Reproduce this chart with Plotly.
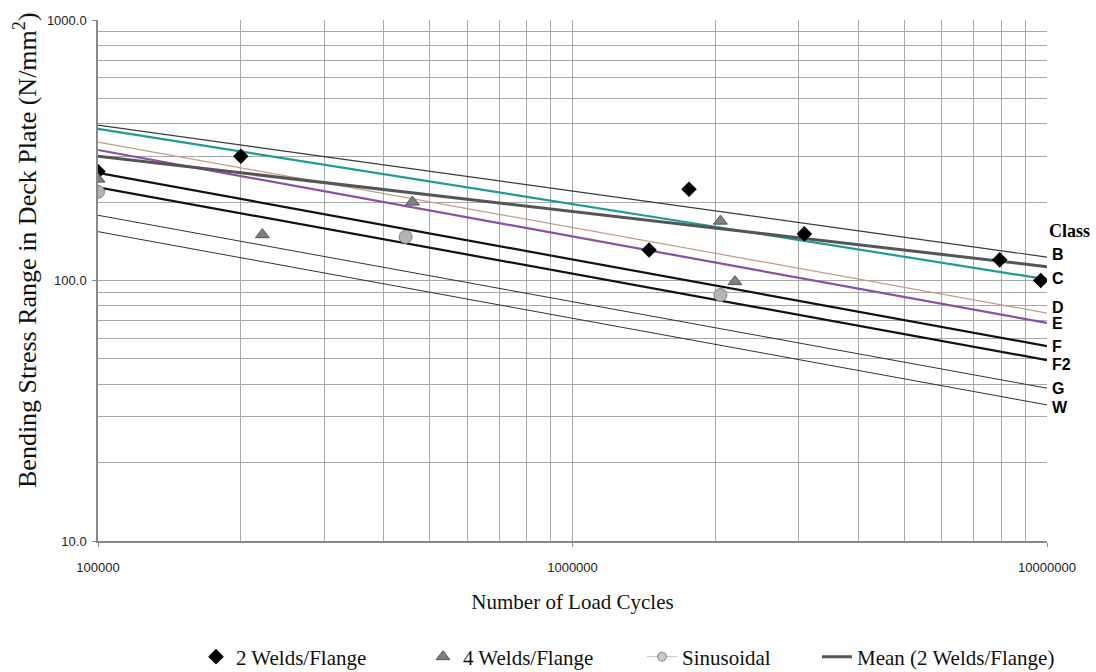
import math
import plotly.graph_objects as go

# ---- data ----
line_cycles = [1e5, 1e7]
class_names = ["B", "C", "D", "E", "F", "F2", "G", "W"]
class_start = [395, 382, 340, 317, 259, 228, 178, 154]   # stress at 1e5 cycles
class_end = [123, 101, 75, 68.7, 56, 49.5, 38.6, 33.3]    # stress at 1e7 cycles

mean_start = 300
mean_end = 113

w2_cycles = [1e5, 2e5, 1.45e6, 1.76e6, 3.08e6, 7.95e6, 9.7e6]
w2_stress = [262, 300, 131, 224, 151, 120, 100]

w4_cycles = [1e5, 2.22e5, 4.6e5, 2.05e6, 2.2e6]
w4_stress = [245, 150, 200, 169, 99]

sin_cycles = [1e5, 4.45e5, 2.05e6]
sin_stress = [219, 147, 88]

y_ticks = [10, 100, 1000]
y_ticktext = ["10.0", "100.0", "1000.0"]
x_ticks = [1e5, 1e6, 1e7]
x_ticktext = ["100000", "1000000", "10000000"]

# ---- styles ----
class_colors = ["#3a3a3a", "#1f9a96", "#c49a8a", "#8c4fa6", "#111111", "#111111", "#333333", "#333333"]
class_widths = [1.2, 2.2, 1.2, 2.2, 2.2, 2.2, 1.0, 1.0]
label_yshift = [3, 1, 6, -1, 0, -4, 0, -3]

fig = go.Figure()

for name, s0, s1, col, w in zip(class_names, class_start, class_end, class_colors, class_widths):
    fig.add_trace(go.Scatter(x=line_cycles, y=[s0, s1], mode="lines",
                             line=dict(color=col, width=w), showlegend=False,
                             hoverinfo="skip"))

fig.add_trace(go.Scatter(x=line_cycles, y=[mean_start, mean_end], mode="lines",
                         line=dict(color="#555555", width=3), name="Mean (2 Welds/Flange)",
                         legend="legend4"))

fig.add_trace(go.Scatter(x=w2_cycles, y=w2_stress, mode="markers", name="2 Welds/Flange",
                         marker=dict(symbol="diamond", size=12, color="#000000"),
                         legend="legend"))
fig.add_trace(go.Scatter(x=w4_cycles, y=w4_stress, mode="markers", name="4 Welds/Flange",
                         marker=dict(symbol="triangle-up", size=12, color="#7f7f7f",
                                     line=dict(color="#555555", width=1)),
                         legend="legend2"))
fig.add_trace(go.Scatter(x=sin_cycles, y=sin_stress, mode="markers", name="Sinusoidal",
                         marker=dict(symbol="circle", size=13, color="#b5b5b5",
                                     line=dict(color="#808080", width=1)),
                         showlegend=False))
fig.add_trace(go.Scatter(x=[None], y=[None], mode="lines+markers", name="Sinusoidal",
                         line=dict(color="#c8c8c8", width=1),
                         marker=dict(symbol="circle", size=9, color="#c8c8c8",
                                     line=dict(color="#808080", width=1)),
                         legend="legend3"))

# class labels
fig.add_annotation(x=1.0, xref="paper", xanchor="left", xshift=0,
                   y=math.log10(class_end[0]), yref="y", yshift=26,
                   text="<b>Class</b>", showarrow=False,
                   font=dict(family="Liberation Serif", size=18, color="#000"))
for name, s1, ys in zip(class_names, class_end, label_yshift):
    fig.add_annotation(x=1.0, xref="paper", xanchor="left", xshift=3,
                       y=math.log10(s1), yref="y", yshift=ys,
                       text="<b>%s</b>" % name, showarrow=False,
                       font=dict(family="Liberation Sans", size=16, color="#000"))

# y axis title (placed as annotation to match the reference offset)
fig.add_annotation(x=(25 - 98) / 949, xref="paper", xanchor="center",
                   y=(541 - 250) / 521, yref="paper", yanchor="middle",
                   text="Bending Stress Range in Deck Plate (N/mm<sup>2</sup>)",
                   textangle=-90, showarrow=False,
                   font=dict(family="Liberation Serif", size=26, color="#111"))

minor_x = [m * 10 ** d for d in (5, 6) for m in range(2, 10)]
minor_y = [m * 10 ** d for d in (1, 2) for m in range(2, 10)]

grid_col = "#a8a8a8"
fig.update_xaxes(type="log", range=[5, 7], tickvals=x_ticks, ticktext=x_ticktext,
                 showgrid=True, gridcolor=grid_col, gridwidth=1,
                 minor=dict(tickvals=minor_x, showgrid=True, gridcolor=grid_col, gridwidth=1),
                 showline=True, linecolor="#888888", linewidth=1.5,
                 ticks="outside", ticklen=4, tickcolor="#888888", ticklabelstandoff=10,
                 tickfont=dict(family="Liberation Sans", size=13, color="#222"),
                 title=dict(text="Number of Load Cycles", standoff=20,
                            font=dict(family="Liberation Serif", size=21, color="#111")),
                 zeroline=False, mirror=False, automargin=False)
fig.update_yaxes(type="log", range=[1, 3], tickvals=y_ticks, ticktext=y_ticktext,
                 showgrid=True, gridcolor=grid_col, gridwidth=1,
                 minor=dict(tickvals=minor_y, showgrid=True, gridcolor=grid_col, gridwidth=1),
                 showline=True, linecolor="#888888", linewidth=1.5,
                 ticks="outside", ticklen=4, tickcolor="#888888", ticklabelstandoff=3,
                 tickfont=dict(family="Liberation Sans", size=13, color="#222"),
                 zeroline=False, automargin=False)

leg_common = dict(orientation="h", yref="container", yanchor="middle", y=(672 - 657) / 672,
                  xanchor="left",
                  font=dict(family="Liberation Serif", size=21, color="#111"),
                  bgcolor="rgba(0,0,0,0)", itemwidth=30)
fig.update_layout(
    width=1096, height=672,
    margin=dict(l=98, r=49, t=20, b=131, autoexpand=False),
    plot_bgcolor="white", paper_bgcolor="white",
    legend=dict(leg_common, x=(196 - 98) / 949),
    legend2=dict(leg_common, x=(423 - 98) / 949),
    legend3=dict(leg_common, x=(642 - 98) / 949),
    legend4=dict(leg_common, x=(817 - 98) / 949),
)

fig.write_html("out.html")
